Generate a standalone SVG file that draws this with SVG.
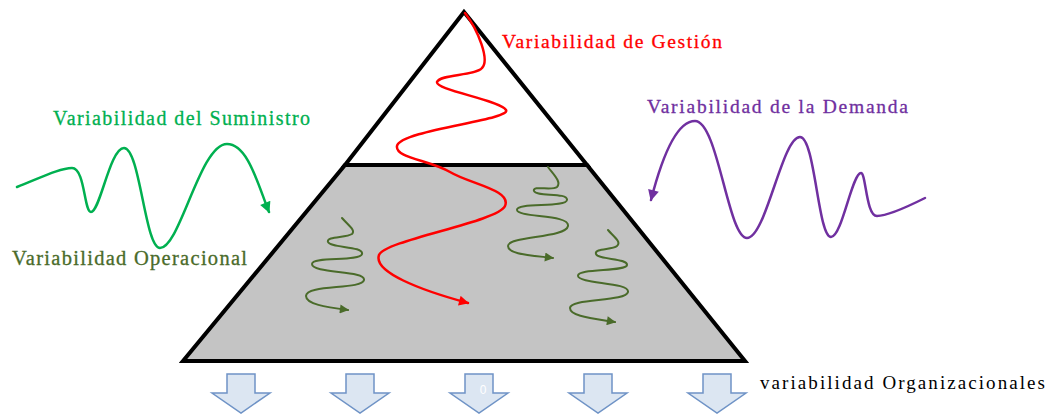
<svg xmlns="http://www.w3.org/2000/svg" width="1049" height="414" viewBox="0 0 1049 414">
<style>
text{font-family:"Liberation Serif","Times New Roman",serif;}
.wave{fill:none;stroke-linecap:round;stroke-linejoin:round;}
.op{stroke:#4a6b2a;stroke-width:2;}
.blk{fill:#dce6f2;stroke:#6f93c6;stroke-width:1.5;}
</style>
<defs>
<marker id="mRed" viewBox="0 0 10 10" refX="9" refY="5" markerWidth="12" markerHeight="10" markerUnits="userSpaceOnUse" orient="auto"><path d="M0,0 L10,5 L0,10 z" fill="#ff0000"/></marker>
<marker id="mOp" viewBox="0 0 10 10" refX="9" refY="5" markerWidth="11" markerHeight="9" markerUnits="userSpaceOnUse" orient="auto"><path d="M0,0 L10,5 L0,10 z" fill="#4a6b2a"/></marker>
<marker id="mGr" viewBox="0 0 10 10" refX="9" refY="5" markerWidth="12" markerHeight="11" markerUnits="userSpaceOnUse" orient="auto"><path d="M0,0 L10,5 L0,10 z" fill="#00b050"/></marker>
<marker id="mPu" viewBox="0 0 10 10" refX="9" refY="5" markerWidth="12" markerHeight="11" markerUnits="userSpaceOnUse" orient="auto"><path d="M0,0 L10,5 L0,10 z" fill="#7030a0"/></marker>
</defs>

<g id="pyramid">
<polygon points="345,165 587,165 745,361 183,361" fill="#c4c4c4" stroke="#000" stroke-width="4" stroke-linejoin="miter"/>
<polygon points="464,12 345,165 587,165" fill="#ffffff" stroke="#000" stroke-width="4" stroke-linejoin="miter"/>
</g>

<g id="connectors">
<path class="wave" stroke="#ff0000" stroke-width="2.5" marker-end="url(#mRed)" d="M465,13 C478,30 490,60 482,68 C475,76 440,74 437,82 C435,90 500,100 506,110 C512,120 400,130 397,146 C395,158 430,160 450,172 C470,184 512,190 505,206 C498,222 385,240 379,255 C373,272 420,290 468,303"/>
<path class="wave op" marker-end="url(#mOp)" d="M342,218 C348,225 356,230 352,234 C346,238 326,236 328,242 C330,248 364,246 362,254 C360,262 312,256 312,264 C312,274 366,270 364,280 C362,290 306,284 306,296 C306,304 325,307 348,310"/>
<path class="wave op" marker-end="url(#mOp)" d="M548,167 C553,174 562,182 557,187 C552,191 532,185 534,191 C536,197 568,192 567,200 C566,208 516,202 517,210 C518,218 570,214 568,226 C566,238 508,236 508,246 C508,254 528,255 553,258"/>
<path class="wave op" marker-end="url(#mOp)" d="M608,230 C613,236 622,242 617,246 C612,250 594,248 596,254 C598,260 628,258 627,265 C626,272 577,268 578,276 C579,284 630,282 628,292 C626,302 570,298 570,308 C570,316 590,318 615,322"/>
<path class="wave" stroke="#00b050" stroke-width="2.5" marker-end="url(#mGr)" d="M17,187 C40,178 60,168 72,168 C85,168 84,212 91,212 C100,212 110,148 124,148 C140,148 145,248 160,248 C180,248 200,144 227,144 C248,144 258,185 269,212"/>
<path class="wave" stroke="#7030a0" stroke-width="2.5" marker-end="url(#mPu)" d="M925,198 C905,208 885,216 877,216 C866,216 866,173 861,173 C852,173 842,237 831,237 C818,237 815,137 800,137 C782,137 766,238 747,238 C728,238 718,121 695,121 C675,121 660,165 651,200"/>
</g>

<g id="block-arrows">
<polygon class="blk" points="227,374 255,374 255,393 270,393 241,413 212,393 227,393"/>
<polygon class="blk" points="346,374 374,374 374,393 389,393 360,413 331,393 346,393"/>
<polygon class="blk" points="465,374 493,374 493,393 508,393 479,413 450,393 465,393"/>
<polygon class="blk" points="584,374 612,374 612,393 627,393 598,413 569,393 584,393"/>
<polygon class="blk" points="703,374 731,374 731,393 746,393 717,413 688,393 703,393"/>
<text x="483" y="394" font-size="12" fill="#ffffff" text-anchor="middle" style="font-family:'Liberation Sans',Arial,sans-serif">0</text>
</g>

<g id="labels">
<text x="502" y="48" font-size="19.5" fill="#ff0000" stroke="#ff0000" stroke-width="0.3" textLength="220" lengthAdjust="spacing">Variabilidad  de Gestión</text>
<text x="53" y="125" font-size="20" fill="#00b050" stroke="#00b050" stroke-width="0.3" textLength="257" lengthAdjust="spacing">Variabilidad  del Suministro</text>
<text x="12" y="265" font-size="20.5" fill="#4a6b2a" stroke="#4a6b2a" stroke-width="0.3" textLength="235" lengthAdjust="spacing">Variabilidad  Operacional</text>
<text x="647" y="113" font-size="19.5" fill="#7030a0" stroke="#7030a0" stroke-width="0.3" textLength="261" lengthAdjust="spacing">Variabilidad  de la Demanda</text>
<text x="760" y="389" font-size="19" fill="#000000" textLength="285" lengthAdjust="spacing">variabilidad  Organizacionales</text>
</g>
</svg>
